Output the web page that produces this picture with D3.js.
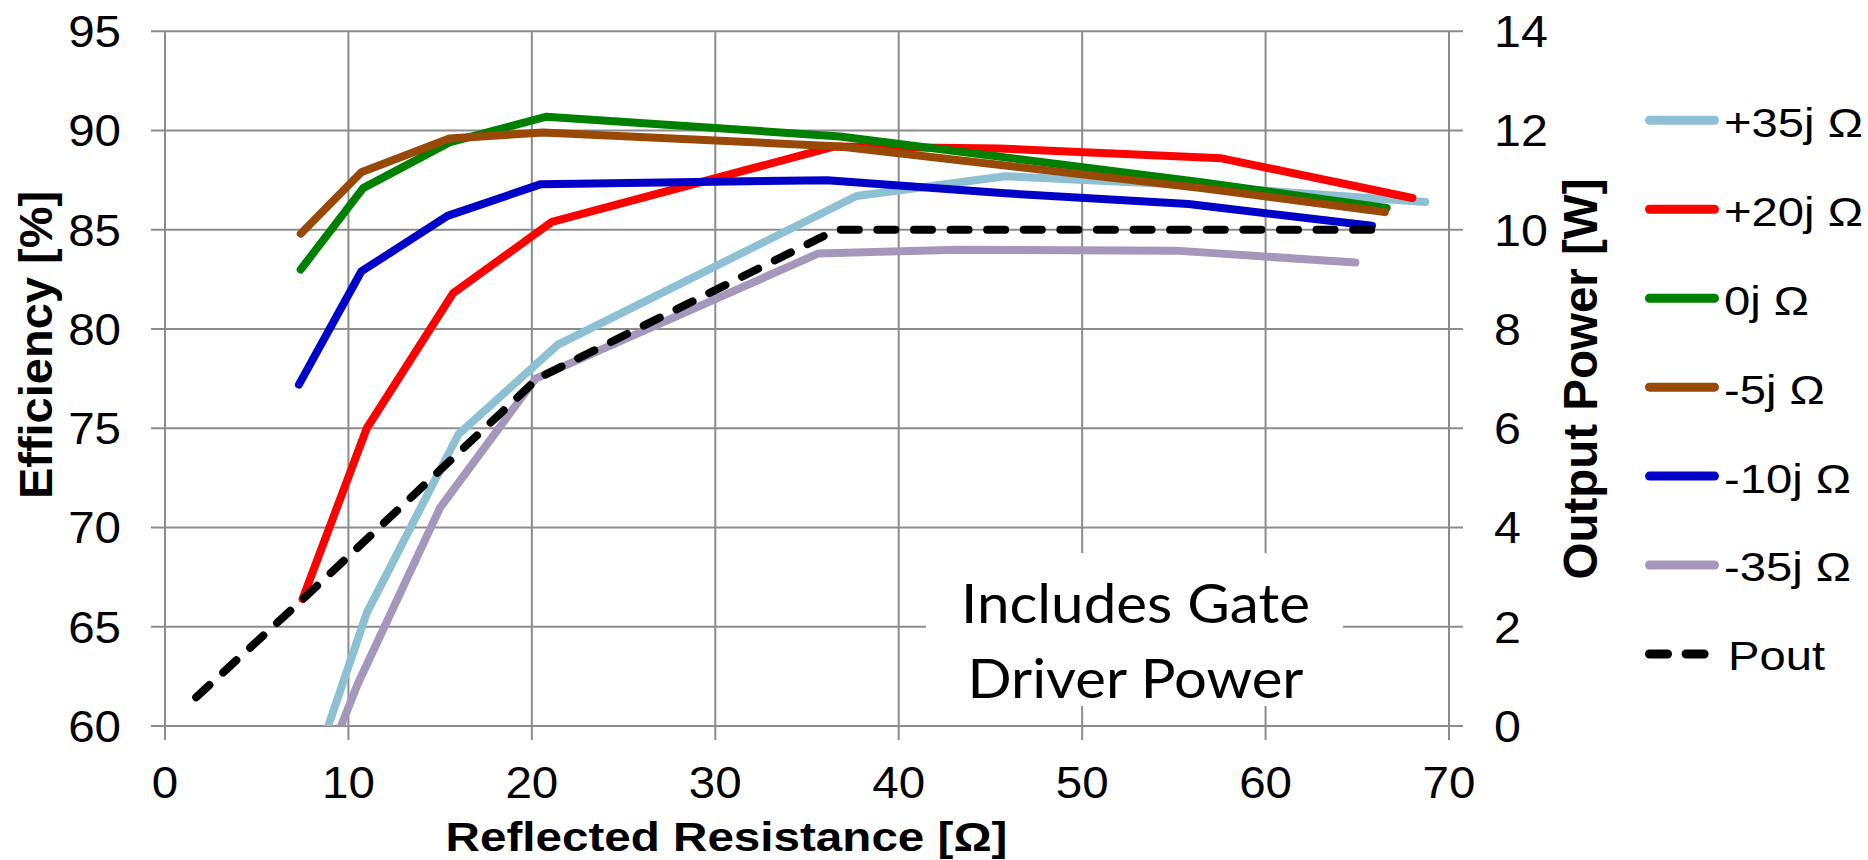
<!DOCTYPE html>
<html>
<head>
<meta charset="utf-8">
<script src="https://cdn.jsdelivr.net/npm/d3@7"></script>
<style>
  html, body { margin: 0; padding: 0; background: #fff; }
  svg { display: block; }
  text { font-family: "Liberation Sans", Arial, sans-serif; fill: #000; }
</style>
</head>
<body>
<script>
// ---- data ----
const effTicks = [60, 65, 70, 75, 80, 85, 90, 95];
const powTicks = [0, 2, 4, 6, 8, 10, 12, 14];
const resTicks = [0, 10, 20, 30, 40, 50, 60, 70];

const seriesNames = ['+35j Ω', '+20j Ω', '0j Ω', '-5j Ω', '-10j Ω', '-35j Ω', 'Pout'];
const seriesColors = ['#8dc0d3', '#ff0000', '#008000', '#984807', '#0000c8', '#a597bb', '#000000'];

const resP35 = [8.9, 11.0, 16.0, 21.4, 37.7, 45.8, 55.8, 68.7];
const effP35 = [60.0, 65.7, 74.7, 79.2, 86.7, 87.7, 87.25, 86.4];

const resP20 = [7.5, 11.0, 15.7, 21.1, 36.5, 45.5, 57.6, 68.0];
const effP20 = [66.4, 75.0, 81.8, 85.4, 89.2, 89.1, 88.6, 86.6];

const res0 = [7.4, 10.8, 15.5, 20.8, 36.8, 56.5, 66.6];
const eff0 = [83.0, 87.1, 89.4, 90.7, 89.7, 87.4, 86.1];

const resM5 = [7.4, 10.7, 15.5, 20.6, 36.8, 56.5, 66.5];
const effM5 = [84.8, 87.9, 89.6, 89.9, 89.2, 87.1, 85.9];

const resM10 = [7.3, 10.7, 15.4, 20.5, 36.1, 45.6, 55.8, 65.8];
const effM10 = [77.2, 82.9, 85.7, 87.3, 87.5, 86.85, 86.3, 85.2];

const resM35 = [9.6, 10.5, 15.0, 20.2, 35.6, 43.2, 55.1, 64.9];
const effM35 = [60.0, 62.1, 71.0, 77.5, 83.8, 84.0, 83.95, 83.35];

const resPout = [1.7, 7.5, 20.3, 36.6, 46.0, 56.0, 66.6];
const pout = [0.58, 2.55, 7.0, 10.0, 10.0, 10.0, 10.0];

const width = 1868;
const height = 860;

const svg = d3.select('body')
  .append('svg')
  .attr('width', width)
  .attr('height', height);

// scales
const x = d3.scaleLinear().domain([0, 70]).range([165, 1449]);
const yL = d3.scaleLinear().domain([60, 95]).range([726, 31.3]);
const yR = d3.scaleLinear().domain([0, 14]).range([726, 31.3]);

const gridColor = '#8c8c8c';

// gridlines (with outside tick stubs)
svg.append('g').selectAll('line')
  .data(effTicks)
  .enter().append('line')
  .attr('x1', x(0) - 14)
  .attr('x2', x(70) + 14)
  .attr('y1', d => yL(d))
  .attr('y2', d => yL(d))
  .attr('stroke', gridColor)
  .attr('stroke-width', 2);

svg.append('g').selectAll('line')
  .data(resTicks)
  .enter().append('line')
  .attr('x1', d => x(d))
  .attr('x2', d => x(d))
  .attr('y1', yL(95))
  .attr('y2', yL(60) + 14)
  .attr('stroke', gridColor)
  .attr('stroke-width', 2);

// tick labels
svg.append('g').selectAll('text')
  .data(effTicks)
  .enter().append('text')
  .attr('transform', d => `translate(${x(0) - 44},${yL(d)}) scale(1.08,1)`)
  .attr('dy', '0.36em')
  .attr('text-anchor', 'end')
  .style('font-size', '44px')
  .text(d => d);

svg.append('g').selectAll('text')
  .data(resTicks)
  .enter().append('text')
  .attr('transform', d => `translate(${x(d)},798) scale(1.08,1)`)
  .attr('text-anchor', 'middle')
  .style('font-size', '44px')
  .text(d => d);

svg.append('g').selectAll('text')
  .data(powTicks)
  .enter().append('text')
  .attr('transform', d => `translate(${x(70) + 45},${yR(d)}) scale(1.1,1)`)
  .attr('dy', '0.36em')
  .attr('text-anchor', 'start')
  .style('font-size', '44px')
  .text(d => d);

// axis titles
svg.append('text')
  .attr('transform', 'translate(52,345) rotate(-90)')
  .attr('text-anchor', 'middle')
  .style('font-size', '47px')
  .style('font-weight', 'bold')
  .text('Efficiency [%]');

svg.append('text')
  .attr('transform', 'translate(1597,379) rotate(-90)')
  .attr('text-anchor', 'middle')
  .style('font-size', '47.5px')
  .style('font-weight', 'bold')
  .text('Output Power [W]');

svg.append('text')
  .attr('transform', 'translate(726.5,851) scale(1.19,1)')
  .attr('text-anchor', 'middle')
  .style('font-size', '40px')
  .style('font-weight', 'bold')
  .text('Reflected Resistance [Ω]');

// annotation box
svg.append('rect')
  .attr('x', 926)
  .attr('y', 553)
  .attr('width', 417)
  .attr('height', 153)
  .attr('fill', '#fff');

const noteLines = ['Includes Gate', 'Driver Power'];
const noteWidths = [349, 336];
svg.append('g').selectAll('text')
  .data(noteLines)
  .enter().append('text')
  .attr('x', 1135.5)
  .attr('y', (d, i) => 622.5 + i * 75.6)
  .attr('text-anchor', 'middle')
  .attr('textLength', (d, i) => noteWidths[i])
  .attr('lengthAdjust', 'spacingAndGlyphs')
  .style('font-family', 'Lato, "Open Sans", sans-serif')
  .style('font-size', '55px')
  .text(d => d);

// series
svg.append('clipPath')
  .attr('id', 'plotClip')
  .append('rect')
  .attr('x', 0).attr('y', 0)
  .attr('width', width).attr('height', yL(60));

const effSeries = [
  [resP35, effP35],
  [resP20, effP20],
  [res0, eff0],
  [resM5, effM5],
  [resM10, effM10],
  [resM35, effM35]
];

const lineEff = d3.line().x(d => x(d[0])).y(d => yL(d[1]));
const linePow = d3.line().x(d => x(d[0])).y(d => yR(d[1]));

const plot = svg.append('g').attr('clip-path', 'url(#plotClip)');

effSeries.forEach((s, i) => {
  const pts = s[0].map((r, j) => [r, s[1][j]]);
  plot.append('path')
    .attr('d', lineEff(pts))
    .attr('fill', 'none')
    .attr('stroke', seriesColors[i])
    .attr('stroke-width', 8)
    .attr('stroke-linecap', 'round')
    .attr('stroke-linejoin', 'round');
});

plot.append('path')
  .attr('d', linePow(resPout.map((r, j) => [r, pout[j]])))
  .attr('fill', 'none')
  .attr('stroke', '#000')
  .attr('stroke-width', 8)
  .attr('stroke-dasharray', '18,18.6')
  .attr('stroke-linecap', 'round')
  .attr('stroke-linejoin', 'round');

// legend
const legend = svg.append('g').attr('class', 'legend');
const legendY = d3.scalePoint().domain(seriesNames).range([120.3, 654]);

seriesNames.forEach((name, i) => {
  const yy = legendY(name);
  const isPout = name === 'Pout';
  legend.append('line')
    .attr('x1', 1649.5)
    .attr('x2', isPout ? 1706 : 1714.5)
    .attr('y1', yy)
    .attr('y2', yy)
    .attr('stroke', seriesColors[i])
    .attr('stroke-width', 9)
    .attr('stroke-linecap', 'round')
    .attr('stroke-dasharray', isPout ? '18,18.6' : null);
  legend.append('text')
    .attr('transform', `translate(${isPout ? 1728 : 1724},${yy + 16.4}) scale(1.18,1)`)
    .style('font-size', '40px')
    .text(name);
});
</script>
</body>
</html>
